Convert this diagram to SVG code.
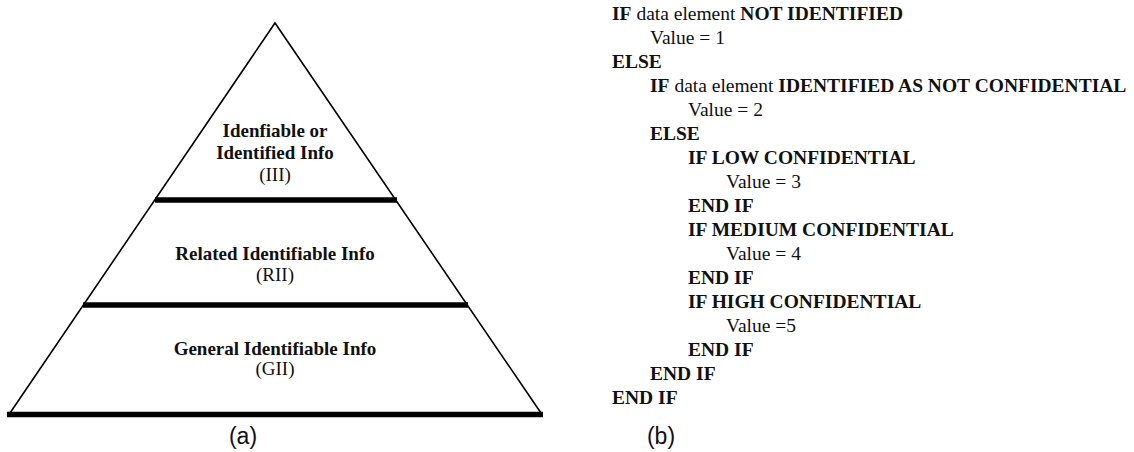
<svg xmlns="http://www.w3.org/2000/svg" width="1134" height="452" viewBox="0 0 1134 452">
<style>
.code{font-family:"Liberation Serif","Times New Roman",serif;font-size:19.5px;fill:#111}
.b{font-weight:bold}
.lbl{font-family:"Liberation Serif","Times New Roman",serif;font-size:19px;fill:#111;text-anchor:middle}
.cap{font-family:"Liberation Sans",Arial,sans-serif;font-size:23px;fill:#111;text-anchor:middle}
.edge{stroke:#000;stroke-width:1.6;fill:none;stroke-linejoin:miter}
.bar{stroke:#000;stroke-width:5.5;fill:none}
</style>
<rect width="1134" height="452" fill="#fff"/>
<g id="pyramid">
<path class="edge" d="M10 413 L275 23 L541 413"/>
</g>
<g id="connectors">
<line class="bar" x1="155" y1="200" x2="397" y2="200"/>
<line class="bar" x1="83" y1="305" x2="468" y2="305"/>
<line class="bar" x1="7" y1="414.5" x2="543" y2="414.5"/>
</g>
<g id="node-iii">
<text class="lbl b" x="275" y="137">Idenfiable or</text>
<text class="lbl b" x="275" y="159">Identified Info</text>
<text class="lbl" x="275" y="181">(III)</text>
</g>
<g id="node-rii">
<text class="lbl b" x="275" y="260">Related Identifiable Info</text>
<text class="lbl" x="275" y="281">(RII)</text>
</g>
<g id="node-gii">
<text class="lbl b" x="275" y="355">General Identifiable Info</text>
<text class="lbl" x="275" y="375">(GII)</text>
</g>
<text class="cap" x="243" y="444">(a)</text>
<g id="code" class="code">
<text x="612" y="20"><tspan class="b">IF</tspan> data element <tspan class="b">NOT IDENTIFIED</tspan></text>
<text x="650" y="44">Value = 1</text>
<text class="b" x="612" y="68">ELSE</text>
<text x="650" y="92"><tspan class="b">IF</tspan> data element <tspan class="b">IDENTIFIED AS NOT CONFIDENTIAL</tspan></text>
<text x="688" y="116">Value = 2</text>
<text class="b" x="650" y="140">ELSE</text>
<text class="b" x="688" y="164">IF LOW CONFIDENTIAL</text>
<text x="726" y="188">Value = 3</text>
<text class="b" x="688" y="212">END IF</text>
<text class="b" x="688" y="236">IF MEDIUM CONFIDENTIAL</text>
<text x="726" y="260">Value = 4</text>
<text class="b" x="688" y="284">END IF</text>
<text class="b" x="688" y="308">IF HIGH CONFIDENTIAL</text>
<text x="726" y="332">Value =5</text>
<text class="b" x="688" y="356">END IF</text>
<text class="b" x="650" y="380">END IF</text>
<text class="b" x="612" y="404">END IF</text>
</g>
<text class="cap" x="661" y="444">(b)</text>
</svg>
